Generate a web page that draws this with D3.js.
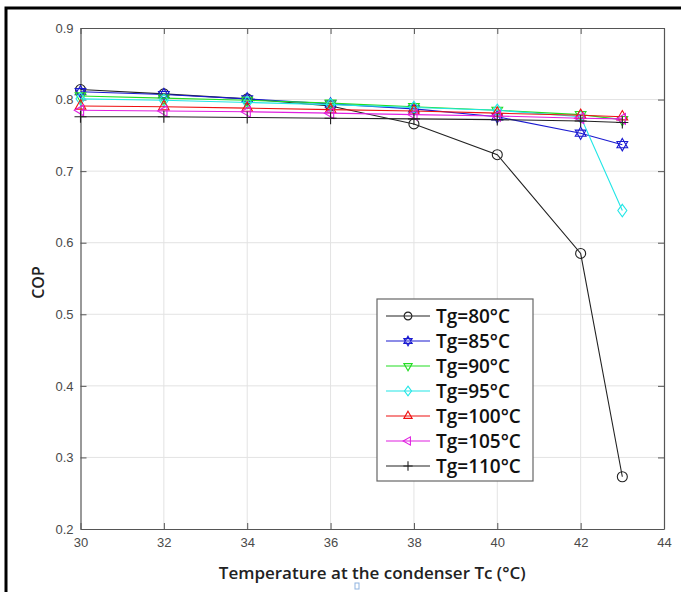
<!DOCTYPE html>
<html>
<head>
<meta charset="utf-8">
<script src="https://cdn.jsdelivr.net/npm/d3@7"></script>
<style>
  html, body { margin: 0; padding: 0; background: #fff; }
  svg { display: block; }
</style>
</head>
<body>
<svg id="chart" width="681" height="592"></svg>
<script>
// Condenser temperature Tc (°C)
const tc = [30, 32, 34, 36, 38, 40, 42, 43];

// COP for each generator temperature Tg
const cop80  = [0.814, 0.808, 0.801, 0.791, 0.766, 0.723, 0.585, 0.273];
const cop85  = [0.811, 0.807, 0.801, 0.794, 0.787, 0.776, 0.753, 0.737];
const cop90  = [0.805, 0.802, 0.799, 0.795, 0.790, 0.785, 0.779, 0.772];
const cop95  = [0.801, 0.799, 0.796, 0.793, 0.789, 0.785, 0.776, 0.645];
const cop100 = [0.791, 0.790, 0.788, 0.786, 0.784, 0.781, 0.778, 0.776];
const cop105 = [0.785, 0.784, 0.783, 0.781, 0.779, 0.777, 0.774, 0.773];
const cop110 = [0.776, 0.776, 0.775, 0.774, 0.773, 0.772, 0.770, 0.768];

const seriesNames = ["Tg=80°C", "Tg=85°C", "Tg=90°C", "Tg=95°C", "Tg=100°C", "Tg=105°C", "Tg=110°C"];
const seriesValues = [cop80, cop85, cop90, cop95, cop100, cop105, cop110];
const seriesColors = ["#222222", "#1a1ad0", "#22dd22", "#22e6e6", "#ee1111", "#e020e0", "#222222"];
const seriesMarkers = ["circle", "hexagram", "triDown", "diamond", "triUp", "triLeft", "plus"];

const xTicks = [30, 32, 34, 36, 38, 40, 42, 44];
const yTicks = [0.2, 0.3, 0.4, 0.5, 0.6, 0.7, 0.8, 0.9];

const svg = d3.select("#chart");
const plot = { left: 80.5, right: 664, top: 28, bottom: 529 };

const x = d3.scaleLinear().domain([30, 44]).range([plot.left, plot.right]);
const y = d3.scaleLinear().domain([0.2, 0.9]).range([plot.bottom, plot.top]);

// outer figure frame
svg.append("rect")
  .attr("x", 6).attr("y", 8).attr("width", 720).attr("height", 640)
  .attr("fill", "none").attr("stroke", "#000").attr("stroke-width", 3);

// grid
const grid = svg.append("g");
grid.selectAll("line.gx").data(xTicks.slice(1, -1)).join("line")
  .attr("x1", d => x(d)).attr("x2", d => x(d))
  .attr("y1", plot.top).attr("y2", plot.bottom)
  .attr("stroke", "#e3e3e3").attr("stroke-width", 1);
grid.selectAll("line.gy").data(yTicks.slice(1, -1)).join("line")
  .attr("x1", plot.left).attr("x2", plot.right)
  .attr("y1", d => y(d)).attr("y2", d => y(d))
  .attr("stroke", "#e3e3e3").attr("stroke-width", 1);

// axes: ticks point inward, box on all sides
const tickFont = "'Liberation Sans', Arial, sans-serif";
const axisColor = "#555";

const gxb = svg.append("g").attr("transform", `translate(0,${plot.bottom})`)
  .call(d3.axisBottom(x).tickValues(xTicks).tickSizeInner(-6).tickSizeOuter(0).tickPadding(9));
const gxt = svg.append("g").attr("transform", `translate(0,${plot.top})`)
  .call(d3.axisTop(x).tickValues(xTicks).tickSizeInner(-6).tickSizeOuter(0).tickFormat(""));
const gyl = svg.append("g").attr("transform", `translate(${plot.left},0)`)
  .call(d3.axisLeft(y).tickValues(yTicks).tickSizeInner(-6).tickSizeOuter(0).tickPadding(7).tickFormat(d3.format(".1f")));
const gyr = svg.append("g").attr("transform", `translate(${plot.right},0)`)
  .call(d3.axisRight(y).tickValues(yTicks).tickSizeInner(-6).tickSizeOuter(0).tickFormat(""));

[gxb, gxt, gyl, gyr].forEach(g => {
  g.select(".domain").attr("stroke", axisColor).attr("stroke-width", 1.2);
  g.selectAll(".tick line").attr("stroke", axisColor);
  g.selectAll(".tick text").attr("fill", "#4a4a4a")
    .style("font-family", tickFont).style("font-size", "13px");
});

// marker shapes
const hexagram = {
  draw(ctx, size) {
    const r = Math.sqrt(size) * 0.62;
    for (let k = 0; k < 2; k++) {
      const off = k === 0 ? -Math.PI / 2 : Math.PI / 2;
      for (let i = 0; i < 3; i++) {
        const a = off + i * 2 * Math.PI / 3;
        const px = r * Math.cos(a), py = r * Math.sin(a);
        if (i === 0) ctx.moveTo(px, py); else ctx.lineTo(px, py);
      }
      ctx.closePath();
    }
  }
};
function triangle(angle) {
  return {
    draw(ctx, size) {
      const r = Math.sqrt(size) * 0.62;
      for (let i = 0; i < 3; i++) {
        const a = angle + i * 2 * Math.PI / 3;
        const px = r * Math.cos(a), py = r * Math.sin(a);
        if (i === 0) ctx.moveTo(px, py); else ctx.lineTo(px, py);
      }
      ctx.closePath();
    }
  };
}
const diamond = {
  draw(ctx, size) {
    const rx = Math.sqrt(size) * 0.45, ry = Math.sqrt(size) * 0.62;
    ctx.moveTo(0, -ry); ctx.lineTo(rx, 0); ctx.lineTo(0, ry); ctx.lineTo(-rx, 0); ctx.closePath();
  }
};
const plus = {
  draw(ctx, size) {
    const r = Math.sqrt(size) * 0.6;
    ctx.moveTo(-r, 0); ctx.lineTo(r, 0); ctx.moveTo(0, -r); ctx.lineTo(0, r);
  }
};
const circle = {
  draw(ctx, size) {
    const r = Math.sqrt(size) * 0.5;
    ctx.moveTo(r, 0); ctx.arc(0, 0, r, 0, 2 * Math.PI);
  }
};
const markerTypes = {
  circle: circle,
  hexagram: hexagram,
  triDown: triangle(Math.PI / 2),
  diamond: diamond,
  triUp: triangle(-Math.PI / 2),
  triLeft: triangle(Math.PI),
  plus: plus
};
const markerSize = 100;
const legendMarkerSize = 60;

// series
const line = d3.line().x((d, i) => x(tc[i])).y(d => y(d));
seriesValues.forEach((vals, s) => {
  const g = svg.append("g");
  g.append("path").datum(vals)
    .attr("d", line).attr("fill", "none")
    .attr("stroke", seriesColors[s]).attr("stroke-width", 1.1);
  g.selectAll("path.m").data(vals).join("path")
    .attr("class", "m")
    .attr("transform", (d, i) => `translate(${x(tc[i])},${y(d)})`)
    .attr("d", d3.symbol().type(markerTypes[seriesMarkers[s]]).size(markerSize))
    .attr("fill", "none").attr("stroke", seriesColors[s]).attr("stroke-width", 1.1);
});

// legend
const lg = svg.append("g");
const lgBox = { x: 377, y: 299, w: 156, h: 182 };
lg.append("rect")
  .attr("x", lgBox.x).attr("y", lgBox.y).attr("width", lgBox.w).attr("height", lgBox.h)
  .attr("fill", "#fff").attr("stroke", "#666").attr("stroke-width", 1.2);
seriesNames.forEach((name, s) => {
  const cy = 316 + s * 25;
  lg.append("line").attr("x1", 386).attr("x2", 430).attr("y1", cy).attr("y2", cy)
    .attr("stroke", seriesColors[s]).attr("stroke-width", 1.1);
  lg.append("path")
    .attr("transform", `translate(408,${cy})`)
    .attr("d", d3.symbol().type(markerTypes[seriesMarkers[s]]).size(legendMarkerSize))
    .attr("fill", "none").attr("stroke", seriesColors[s]).attr("stroke-width", 1.1);
  lg.append("text").attr("x", 436).attr("y", cy).attr("dy", "0.36em")
    .style("font-family", "'Open Sans', 'Noto Sans', sans-serif")
    .style("font-size", "19px").style("font-weight", 600)
    .attr("fill", "#111").text(name);
});

// axis titles
svg.append("text")
  .attr("x", (plot.left + plot.right) / 2).attr("y", 579)
  .attr("text-anchor", "middle")
  .style("font-family", "'Open Sans', 'Noto Sans', sans-serif")
  .style("font-size", "17px").style("font-weight", 600)
  .attr("fill", "#222").text("Temperature at the condenser Tc (°C)");

svg.append("text")
  .attr("transform", `translate(44,${(plot.top + plot.bottom) / 2 + 4}) rotate(-90)`)
  .attr("text-anchor", "middle")
  .style("font-family", "'Open Sans', 'Noto Sans', sans-serif")
  .style("font-size", "16px").style("font-weight", 600)
  .attr("fill", "#222").text("COP");

// small mark below the axis title
svg.append("rect")
  .attr("x", 355).attr("y", 583).attr("width", 4).attr("height", 6)
  .attr("fill", "none").attr("stroke", "#8fb4e0").attr("stroke-width", 1);
</script>
</body>
</html>
